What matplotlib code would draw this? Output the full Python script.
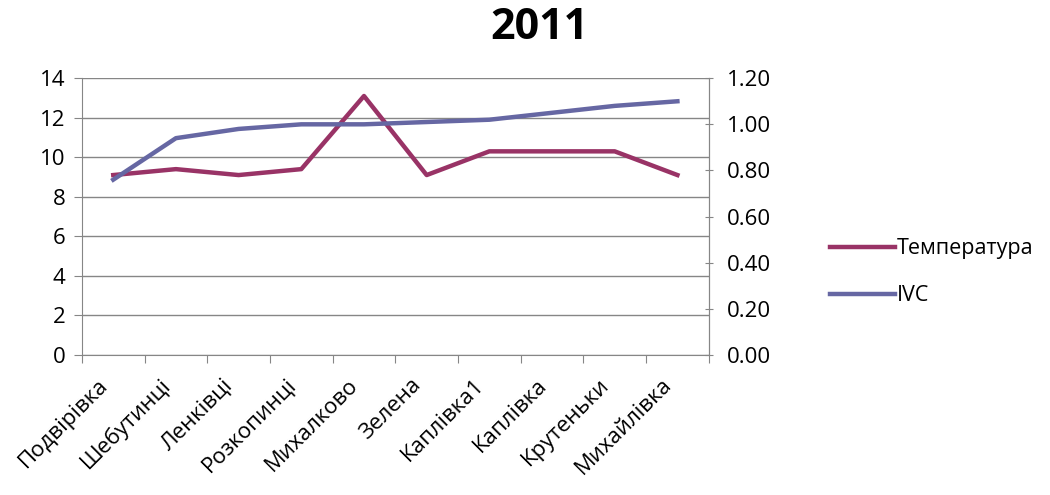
import matplotlib
matplotlib.use("Agg")
import matplotlib.pyplot as plt
import matplotlib.transforms as mtransforms
import numpy as np

plt.rcParams["font.family"] = ["Open Sans", "DejaVu Sans"]

# ── Data ─────────────────────────────────────────────────────────────────────
villages = ["Подвірівка", "Шебутинці", "Ленківці", "Розкопинці", "Михалково",
            "Зелена", "Каплівка1", "Каплівка", "Крутеньки", "Михайлівка"]
temperature = [9.1, 9.4, 9.1, 9.4, 13.1, 9.1, 10.3, 10.3, 10.3, 9.1]
ivc = [0.76, 0.94, 0.98, 1.00, 1.00, 1.01, 1.02, 1.05, 1.08, 1.10]

left_ticks = [0, 2, 4, 6, 8, 10, 12, 14]
right_ticks = [0.0, 0.2, 0.4, 0.6, 0.8, 1.0, 1.2]

TEMP_COLOR = "#993366"
IVC_COLOR = "#6667A3"
AXIS_COLOR = "#868686"

fig = plt.figure(figsize=(10.5, 4.95), dpi=100)
ax1 = fig.add_axes([0.078, 0.283, 0.597, 0.559])
ax2 = ax1.twinx()

x = np.arange(len(villages))
l1, = ax1.plot(x, temperature, color=TEMP_COLOR, linewidth=3.2, label="Температура")
l2, = ax2.plot(x, ivc, color=IVC_COLOR, linewidth=3.2, label="IVC")

ax1.set_xlim(-0.5, len(villages) - 0.5)
ax1.set_ylim(0, 14)
ax2.set_ylim(0, 1.2)
ax1.set_yticks(left_ticks)
ax2.set_yticks(right_ticks)
ax2.set_yticklabels([f"{v:.2f}" for v in right_ticks])

# categories between boundary ticks
ax1.set_xticks(np.arange(len(villages) + 1) - 0.5)
ax1.set_xticklabels([])
ax1.set_xticks(x, minor=True)
ax1.set_xticklabels(villages, minor=True, rotation=45, ha="right",
                    va="top", rotation_mode="anchor", fontsize=16)
ax1.tick_params(axis="x", which="minor", length=0, pad=14)
ax1.tick_params(axis="x", which="major", length=6, color=AXIS_COLOR)
shift = mtransforms.ScaledTranslation(-0.16, 0, fig.dpi_scale_trans)
for lab in ax1.get_xticklabels(minor=True):
    lab.set_transform(lab.get_transform() + shift)

ax1.grid(True, axis="y", color=AXIS_COLOR, linewidth=1)
ax1.set_axisbelow(True)
ax1.tick_params(axis="y", labelsize=16, length=6, color=AXIS_COLOR, pad=6)
ax2.tick_params(axis="y", labelsize=16, length=6, direction="inout",
                color=AXIS_COLOR, pad=10)

for ax in (ax1, ax2):
    ax.spines["top"].set_visible(False)
    for s in ("left", "right", "bottom"):
        ax.spines[s].set_color(AXIS_COLOR)
ax2.spines["left"].set_visible(False)
ax2.spines["bottom"].set_visible(False)

fig.text(0.514, 0.945, "2011", ha="center", va="center",
         fontsize=31, fontweight="bold")

fig.legend(handles=[l1, l2], loc="center left", bbox_to_anchor=(0.772, 0.45),
           frameon=False, fontsize=15.5, handlelength=3.0, handletextpad=0.1,
           labelspacing=1.2)

fig.savefig("out.png", dpi=100)
